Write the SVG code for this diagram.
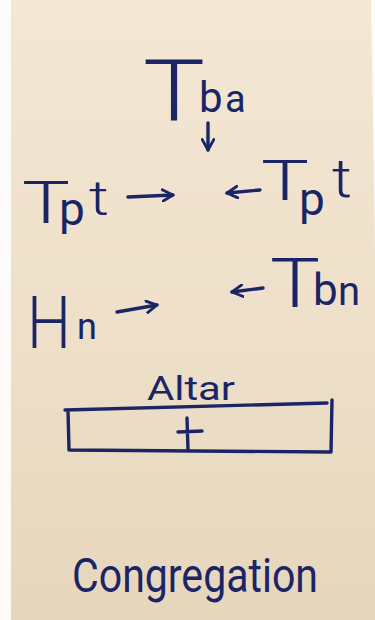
<svg xmlns="http://www.w3.org/2000/svg" width="375" height="620" viewBox="0 0 375 620">
<defs>
<linearGradient id="paper" x1="0" y1="0" x2="0" y2="1">
<stop offset="0" stop-color="#f4e7d4"/>
<stop offset="0.5" stop-color="#eee0ca"/>
<stop offset="1" stop-color="#e6d6bc"/>
</linearGradient>
<marker id="head" viewBox="0 0 12 12" refX="10" refY="6" markerWidth="14" markerHeight="14" markerUnits="userSpaceOnUse" orient="auto">
<path d="M1,1 L10,6 L1,11" fill="none" stroke="#1b2566" stroke-width="2.4" stroke-linecap="round" stroke-linejoin="round"/>
</marker>
<style>
.ink{fill:#1b2566;font-family:Roboto,"Open Sans","Liberation Sans",sans-serif;font-weight:300}
.sm{font-weight:400}
.line{fill:none;stroke:#1b2566;stroke-width:3.4;stroke-linecap:round;stroke-linejoin:round}
.arrow{fill:none;stroke:#1b2566;stroke-width:3.4;stroke-linecap:round;marker-end:url(#head)}
</style>
</defs>
<rect width="375" height="620" fill="#fcfbf8"/>
<path d="M11,0 L371,0 L375,250 L375,620 L11,620 Z" fill="url(#paper)"/>

<g id="node-tba">
<text class="ink" x="143" y="120" font-size="86" textLength="62" lengthAdjust="spacingAndGlyphs">T</text>
<text class="ink sm" x="199" y="112" font-size="42">b</text>
<text class="ink sm" x="225" y="112" font-size="38">a</text>
</g>

<g id="node-tpt-left">
<text class="ink" x="22" y="223" font-size="60" textLength="48" lengthAdjust="spacingAndGlyphs">T</text>
<text class="ink sm" x="59" y="225" font-size="46">p</text>
<text class="ink" x="89" y="215" font-size="48" textLength="20" lengthAdjust="spacingAndGlyphs">t</text>
</g>

<g id="node-tpt-right">
<text class="ink" x="261" y="200" font-size="56" textLength="48" lengthAdjust="spacingAndGlyphs">T</text>
<text class="ink sm" x="299" y="215" font-size="46">p</text>
<text class="ink" x="332" y="197" font-size="54" textLength="20" lengthAdjust="spacingAndGlyphs">t</text>
</g>

<g id="node-hn">
<text class="ink" x="27" y="348" font-size="72" textLength="44" lengthAdjust="spacingAndGlyphs">H</text>
<text class="ink sm" x="77" y="339" font-size="36">n</text>
</g>

<g id="node-tbn">
<text class="ink" x="270" y="307" font-size="68" textLength="50" lengthAdjust="spacingAndGlyphs">T</text>
<text class="ink sm" x="313" y="305" font-size="44">b</text>
<text class="ink sm" x="338" y="305" font-size="40">n</text>
</g>

<g id="node-altar">
<text class="ink sm" x="147" y="400" font-size="34" textLength="88" lengthAdjust="spacingAndGlyphs">Altar</text>
<path class="line" d="M65,410 L327,403 M332,400 L331,452 M70,450 L330,452 M68,410 L69,450"/>
<path class="line" d="M187,418 L188,450 M178,432 L202,431"/>
</g>

<g id="node-congregation">
<text class="ink sm" x="72" y="592" font-size="48" textLength="246" lengthAdjust="spacingAndGlyphs">Congregation</text>
</g>

<g id="connectors">
<path class="arrow" d="M208,123 L208,150"/>
<path class="arrow" d="M128,197 L173,195"/>
<path class="arrow" d="M260,190 L227,193"/>
<path class="arrow" d="M117,312 L157,305"/>
<path class="arrow" d="M263,288 L232,292"/>
</g>
</svg>
